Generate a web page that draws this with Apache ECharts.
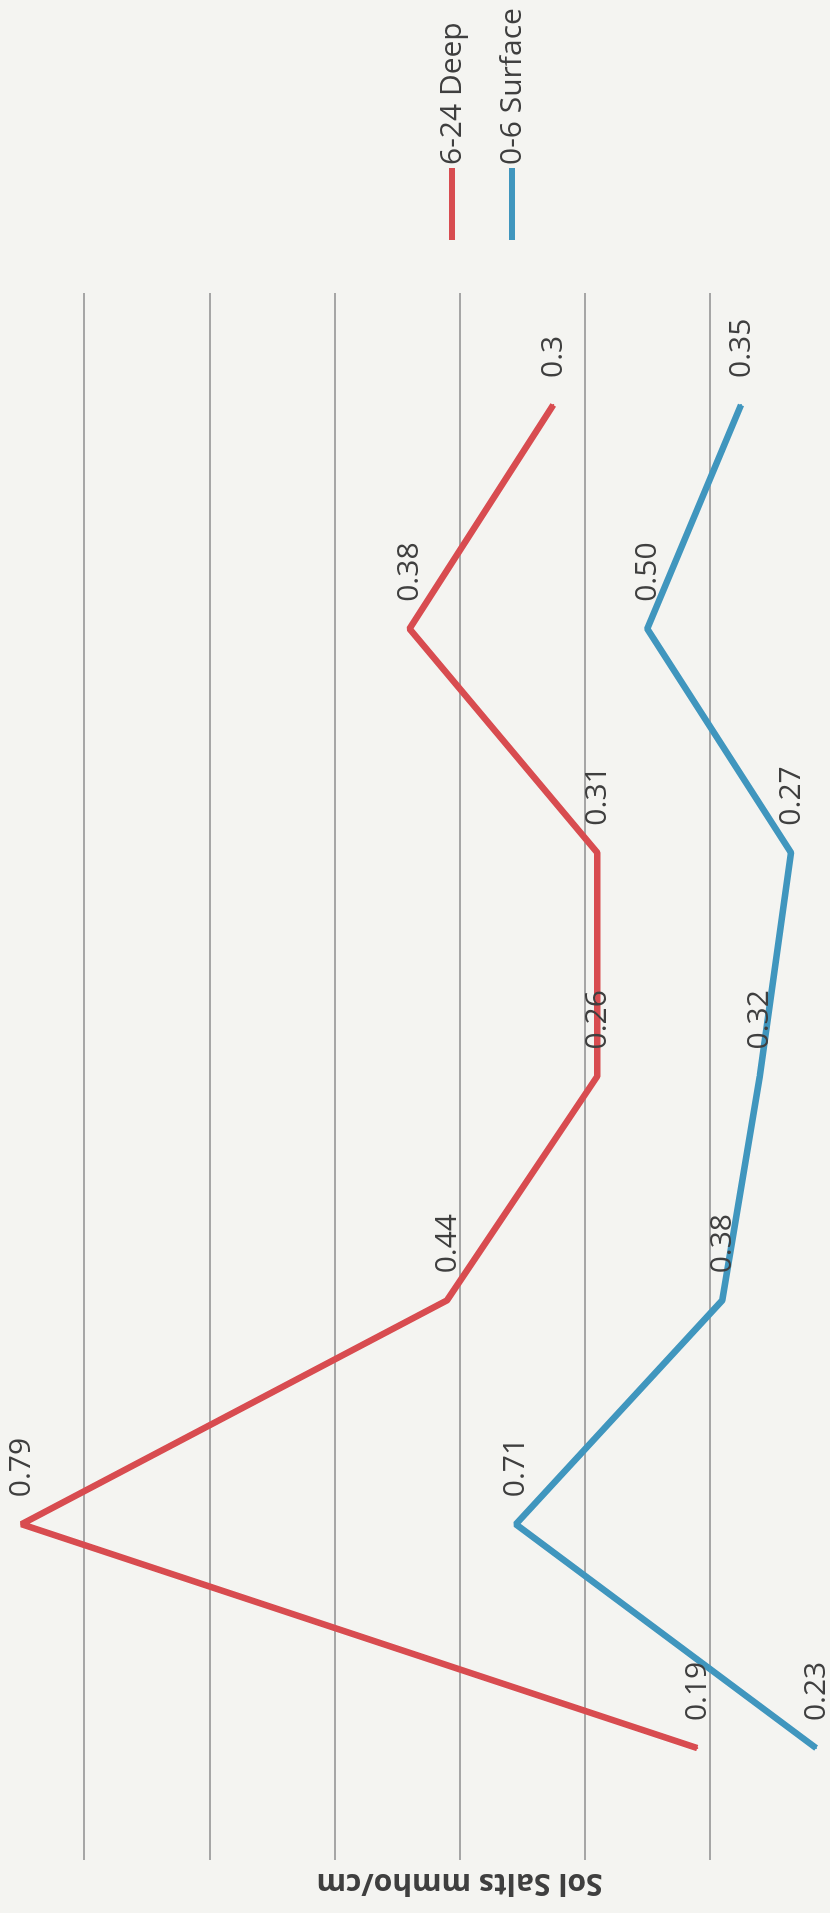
<!DOCTYPE html>
<html>
<head>
<meta charset="utf-8">
<script src="https://cdn.jsdelivr.net/npm/echarts@6/dist/echarts.min.js"></script>
<style>
  html, body { margin: 0; padding: 0; background: #f4f4f1; }
  #wrap { position: relative; width: 830px; height: 1913px; overflow: hidden; background: #f4f4f1; }
  #chart { position: absolute; left: -60px; top: 1913px; width: 1913px; height: 1080px;
           transform-origin: 0 0; transform: rotate(-90deg); }
</style>
</head>
<body>
<div id="wrap"><div id="chart"></div></div>
<script>
// Data (chart is a stacked line chart, photographed rotated 90° counter-clockwise)
const categories = ['1', '2', '3', '4', '5', '6', '7'];
const surfaceValues = [0.23, 0.71, 0.38, 0.32, 0.27, 0.50, 0.35];   // 0-6 Surface
const deepValues    = [0.19, 0.79, 0.44, 0.26, 0.31, 0.38, 0.30];   // 6-24 Deep (stacked on surface)
const surfaceLabels = ['0.23', '0.71', '0.38', '0.32', '0.27', '0.50', '0.35'];
const deepLabels    = ['0.19', '0.79', '0.44', '0.26', '0.31', '0.38', '0.3'];
const seriesNames = ['6-24 Deep', '0-6 Surface'];
const axisTitle = 'Sol Salts mmho/cm';

const RED = '#d84c50';
const BLUE = '#4096be';
const TXT = '#3f3f3f';
const FONT = '"Open Sans", "Noto Sans", sans-serif';

const chart = echarts.init(document.getElementById('chart'), null, { renderer: 'canvas' });

const labelStyle = (arr) => ({
  show: true,
  position: 'right',
  distance: 26,
  fontFamily: FONT,
  fontSize: 30,
  color: TXT,
  formatter: (p) => arr[p.dataIndex]
});

chart.setOption({
  backgroundColor: '#f4f4f1',
  animation: false,
  grid: { left: 53, right: 293, top: 19, bottom: 60, containLabel: false },
  legend: {
    orient: 'vertical',
    left: 1668,
    top: 492,
    data: seriesNames,
    icon: 'rect',
    itemWidth: 72,
    itemHeight: 6,
    itemGap: 30,
    textStyle: { fontFamily: FONT, fontSize: 30, color: TXT, padding: [0, 0, 0, -2] }
  },
  xAxis: {
    type: 'category',
    data: categories,
    boundaryGap: true,
    axisLine: { show: false },
    axisTick: { show: false },
    axisLabel: { show: false }
  },
  yAxis: {
    type: 'value',
    min: 0,
    max: 1.6,
    interval: 0.2,
    name: axisTitle,
    nameLocation: 'middle',
    nameRotate: 90,
    nameGap: 8,
    nameTextStyle: { fontFamily: FONT, fontSize: 30, fontWeight: 'bold', color: TXT },
    axisLabel: { show: false },
    axisLine: { show: false },
    axisTick: { show: false },
    splitLine: { lineStyle: { color: '#8c8c8c', width: 1.5 } }
  },
  series: [
    {
      name: '0-6 Surface',
      type: 'line',
      stack: 'total',
      data: surfaceValues,
      symbol: 'circle',
      symbolSize: 2,
      showSymbol: true,
      color: BLUE,
      lineStyle: { color: BLUE, width: 6.5 },
      itemStyle: { color: BLUE },
      label: labelStyle(surfaceLabels)
    },
    {
      name: '6-24 Deep',
      type: 'line',
      stack: 'total',
      data: deepValues,
      symbol: 'circle',
      symbolSize: 2,
      showSymbol: true,
      color: RED,
      lineStyle: { color: RED, width: 6.5 },
      itemStyle: { color: RED },
      label: labelStyle(deepLabels)
    }
  ]
});
</script>
</body>
</html>
